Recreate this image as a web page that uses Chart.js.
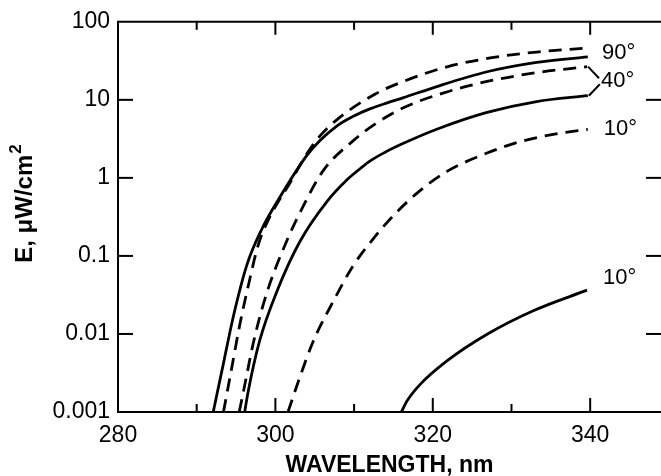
<!DOCTYPE html>
<html>
<head>
<meta charset="UTF-8">
<title>E vs wavelength</title>
<script src="https://cdn.jsdelivr.net/npm/chart.js@4"></script>
<style>
  body { margin: 0; background: #fff; }
  canvas { display: block; }
</style>
</head>
<body>
<canvas id="chart" width="661" height="476"></canvas>
<script>
// curves: wavelength (nm) and E (uW/cm2)
const wlSolid90 = [292.1, 293.4, 294.7, 296.4, 298.3, 300.2, 304.0, 305.7, 307.8, 309.9, 312.0, 314.2, 316.2, 320.5, 326.9, 333.2, 339.7];
const eSolid90  = [0.001, 0.0042, 0.0175, 0.078, 0.223, 0.49, 1.94, 3.03, 4.61, 6.15, 7.65, 9.14, 10.6, 14.8, 22.9, 30.2, 35.5];

const wlDash90 = [293.4, 294.5, 295.5, 296.6, 297.8, 299.1, 301.9, 304.1, 305.7, 307.8, 312.7, 316.2, 321.8, 327.3, 333.2, 339.6];
const eDash90  = [0.001, 0.0039, 0.0135, 0.0434, 0.136, 0.29, 0.88, 2.11, 3.48, 5.55, 11.9, 17.1, 26.5, 34.4, 41.0, 46.1];

const wlDash40 = [295.4, 295.9, 297.2, 298.9, 301.4, 303.8, 306.1, 309.9, 312.7, 316.2, 321.3, 326.9, 333.2, 339.6];
const eDash40  = [0.001, 0.00174, 0.0077, 0.0333, 0.152, 0.49, 1.25, 3.0, 4.93, 7.87, 12.2, 17.2, 22.3, 26.6];

const wlSolid40 = [296.1, 296.5, 298.0, 300.2, 303.1, 306.5, 309.1, 310.8, 312.0, 313.9, 316.2, 320.5, 326.9, 333.2, 339.7];
const eSolid40  = [0.001, 0.00174, 0.0082, 0.0353, 0.152, 0.49, 0.946, 1.32, 1.64, 2.12, 2.75, 4.2, 6.9, 9.51, 11.3];

const wlDash10 = [301.6, 303.1, 304.8, 307.3, 309.9, 312.4, 314.9, 318.0, 321.8, 326.9, 331.1, 335.3, 339.7];
const eDash10  = [0.001, 0.00278, 0.008, 0.0256, 0.0755, 0.164, 0.321, 0.638, 1.21, 2.08, 2.91, 3.61, 4.18];

const wlSolid10 = [316.0, 316.8, 318.4, 321.8, 326.9, 332.7, 339.6];
const eSolid10  = [0.001, 0.00142, 0.00226, 0.00451, 0.00991, 0.0197, 0.0364];

const xMajorTicks = [280, 300, 320, 340];
const xMinorTicks = [290, 310, 330];
const yTicks = [0.001, 0.01, 0.1, 1, 10, 100];
const yTickLabels = ['0.001', '0.01', '0.1', '1', '10', '100'];

const xTitle = 'WAVELENGTH, nm';
const yTitle = 'E, \u03bcW/cm';
const yTitleSup = '2';
const angleLabels = ['90\u00b0', '40\u00b0', '10\u00b0', '10\u00b0'];

const FONT = "'Liberation Sans', Arial, sans-serif";

function pts(wl, e) {
  return wl.map((x, i) => ({ x: x, y: e[i] }));
}

function curve(wl, e, dashed) {
  return {
    data: pts(wl, e),
    borderColor: '#000',
    borderWidth: 2.8,
    borderDash: dashed ? [13, 8] : [],
    pointRadius: 0,
    fill: false,
    cubicInterpolationMode: 'monotone'
  };
}

// frame, inward ticks, titles and curve labels
const framePlugin = {
  id: 'frame',
  afterDraw(chart) {
    const ctx = chart.ctx;
    const ca = chart.chartArea;
    const xs = chart.scales.x;
    const ys = chart.scales.y;

    function line(x1, y1, x2, y2) {
      ctx.beginPath();
      ctx.moveTo(x1, y1);
      ctx.lineTo(x2, y2);
      ctx.stroke();
    }

    ctx.save();
    ctx.strokeStyle = '#000';
    ctx.fillStyle = '#000';
    ctx.lineWidth = 2;
    ctx.setLineDash([]);
    line(ca.left, ca.top, ca.left, ca.bottom);
    line(ca.left - 1, ca.bottom, ca.right, ca.bottom);
    line(ca.left - 1, ca.top, ca.right, ca.top);

    xMajorTicks.forEach(v => {
      const px = xs.getPixelForValue(v);
      line(px, ca.bottom, px, ca.bottom - 14);
      line(px, ca.top, px, ca.top + 13);
    });
    xMinorTicks.forEach(v => {
      const px = xs.getPixelForValue(v);
      line(px, ca.bottom, px, ca.bottom - 8);
      line(px, ca.top, px, ca.top + 8);
    });
    yTicks.slice(1, -1).forEach(v => {
      const py = ys.getPixelForValue(v);
      line(ca.left, py, ca.left + 15, py);
      line(ca.right, py, ca.right - 15, py);
    });

    // axis titles
    ctx.textBaseline = 'middle';
    ctx.textAlign = 'center';
    ctx.font = 'bold 23px ' + FONT;
    ctx.fillText(xTitle, xs.getPixelForValue(314.5), 466);

    ctx.save();
    ctx.translate(25, 204);
    ctx.rotate(-Math.PI / 2);
    ctx.textAlign = 'left';
    ctx.font = 'bold 24px ' + FONT;
    const wMain = ctx.measureText(yTitle).width;
    ctx.font = 'bold 17px ' + FONT;
    const wSup = ctx.measureText(yTitleSup).width;
    const x0 = -(wMain + wSup) / 2;
    ctx.font = 'bold 24px ' + FONT;
    ctx.fillText(yTitle, x0, 0);
    ctx.font = 'bold 17px ' + FONT;
    ctx.fillText(yTitleSup, x0 + wMain + 1, -9);
    ctx.restore();

    // curve labels at the right-hand ends
    const metas = chart.data.datasets.map((d, i) => chart.getDatasetMeta(i));
    function endPt(i) {
      const el = metas[i].data[metas[i].data.length - 1];
      return { x: el.x, y: el.y };
    }
    ctx.font = '22px ' + FONT;
    ctx.textAlign = 'left';
    const d90 = endPt(1), s90 = endPt(0);
    const d40 = endPt(2), s40 = endPt(3);
    const d10 = endPt(4), s10 = endPt(5);

    ctx.fillText(angleLabels[0], d90.x + 15, (d90.y + s90.y) / 2);
    const y40 = (d40.y + s40.y) / 2;
    ctx.fillText(angleLabels[1], d40.x + 14, y40);
    ctx.lineWidth = 2;
    line(d40.x + 1, d40.y, d40.x + 12, y40 - 3);
    line(s40.x + 1, s40.y, s40.x + 12, y40 + 3);
    ctx.fillText(angleLabels[2], d10.x + 16, d10.y);
    ctx.fillText(angleLabels[3], s10.x + 16, s10.y - 12);
    ctx.restore();
  }
};

new Chart(document.getElementById('chart'), {
  type: 'line',
  data: {
    datasets: [
      curve(wlSolid90, eSolid90, false),
      curve(wlDash90, eDash90, true),
      curve(wlDash40, eDash40, true),
      curve(wlSolid40, eSolid40, false),
      curve(wlDash10, eDash10, true),
      curve(wlSolid10, eSolid10, false)
    ]
  },
  options: {
    responsive: false,
    animation: false,
    devicePixelRatio: 1,
    layout: { padding: { top: 18, left: 0, right: 0, bottom: 0 } },
    plugins: {
      legend: { display: false },
      tooltip: { enabled: false }
    },
    scales: {
      x: {
        type: 'linear',
        min: 280,
        max: 349,
        afterBuildTicks: s => { s.ticks = xMajorTicks.map(v => ({ value: v })); },
        afterFit: s => { s.height = 64; },
        grid: { display: false, drawTicks: false },
        border: { display: false },
        ticks: {
          color: '#000',
          padding: 10,
          maxRotation: 0,
          autoSkip: false,
          font: { family: FONT, size: 23 }
        }
      },
      y: {
        type: 'logarithmic',
        min: 0.001,
        max: 100,
        afterBuildTicks: s => { s.ticks = yTicks.map(v => ({ value: v })); },
        afterFit: s => { s.width = 118; },
        grid: { display: false, drawTicks: false },
        border: { display: false },
        ticks: {
          color: '#000',
          padding: 8,
          autoSkip: false,
          font: { family: FONT, size: 23 },
          callback: (v, i) => yTickLabels[i]
        }
      }
    }
  },
  plugins: [framePlugin]
});
</script>
</body>
</html>
